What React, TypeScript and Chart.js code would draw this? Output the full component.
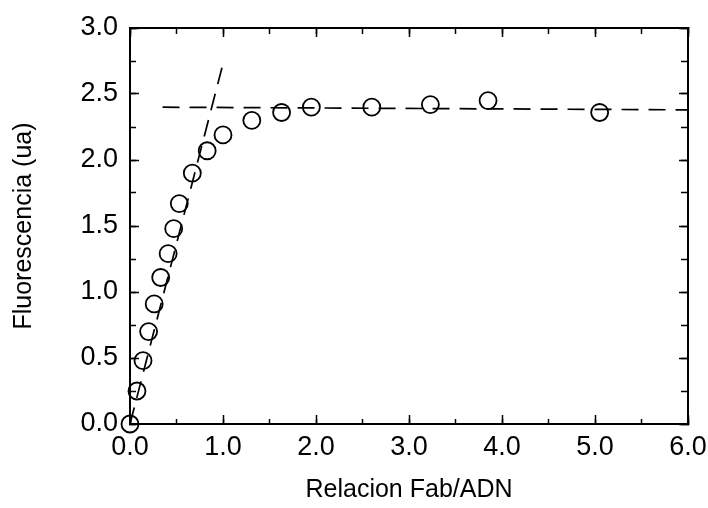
import React, { useEffect, useRef } from "react";
import { Chart, registerables } from "chart.js";

Chart.register(...registerables);

// Data
const ratioX: number[] = [0, 0.075, 0.14, 0.2, 0.26, 0.33, 0.41, 0.47, 0.53, 0.67, 0.83, 1.0, 1.31, 1.63, 1.95, 2.6, 3.23, 3.85, 5.05];
const fluorY: number[] = [0, 0.25, 0.48, 0.7, 0.91, 1.11, 1.29, 1.48, 1.67, 1.9, 2.07, 2.19, 2.3, 2.36, 2.4, 2.4, 2.42, 2.45, 2.36];

const steepLineX: number[] = [0, 1.0];
const steepLineY: number[] = [0, 2.73];
const plateauLineX: number[] = [0.35, 6.0];
const plateauLineY: number[] = [2.4, 2.38];

const xRange: number[] = [0, 6];
const yRange: number[] = [0, 3];
const xMajorStep = 1;
const xMinorStep = 0.5;
const yMajorStep = 0.5;
const yMinorStep = 0.25;

const xTitle = "Relacion Fab/ADN";
const yTitle = "Fluorescencia (ua)";

const FONT = "'Liberation Sans', Arial, Helvetica, sans-serif";

function toPoints(xs: number[], ys: number[]) {
  return xs.map((x, i) => ({ x, y: ys[i] }));
}

function makeAxis(opts: {
  position: string;
  isX: boolean;
  step: number;
  tickLen: number;
  labels: boolean;
  weight: number;
  size: number;
  title?: string;
}) {
  const [min, max] = opts.isX ? xRange : yRange;
  const axis: any = {
    type: "linear",
    position: opts.position,
    min,
    max,
    weight: opts.weight,
    grid: {
      drawOnChartArea: false,
      drawTicks: true,
      tickLength: -opts.tickLen,
      tickColor: "#000",
      tickWidth: 1.5,
    },
    border: { display: true, color: "#000", width: 2 },
    ticks: {
      stepSize: opts.step,
      autoSkip: false,
      maxRotation: 0,
      minRotation: 0,
      display: opts.labels,
      color: "#000",
      font: { family: FONT, size: 27 },
      padding: opts.isX ? 16 : 21,
      callback: (v: any) => Number(v).toFixed(1),
    },
    afterFit: (s: any) => {
      if (opts.isX) s.height = opts.size;
      else s.width = opts.size;
      s.paddingTop = 0;
      s.paddingBottom = 0;
      s.paddingLeft = 0;
      s.paddingRight = 0;
    },
  };
  if (opts.title) {
    axis.title = {
      display: true,
      text: opts.title,
      color: "#000",
      font: { family: FONT, size: 25 },
      padding: opts.isX ? { top: 0, bottom: 3 } : { top: 9, bottom: 0 },
    };
  }
  return axis;
}

export default function App() {
  const canvasRef = useRef<HTMLCanvasElement | null>(null);

  useEffect(() => {
    document.body.style.margin = "0";
    const ctx = canvasRef.current;
    if (!ctx) return;
    const dash = [17, 10];
    const chart = new Chart(ctx, {
      type: "scatter",
      data: {
        datasets: [
          {
            label: "datos",
            data: toPoints(ratioX, fluorY),
            showLine: false,
            clip: false,
            pointStyle: "circle",
            pointRadius: 8.5,
            pointBorderWidth: 1.8,
            borderColor: "#000",
            backgroundColor: "rgba(0,0,0,0)",
            xAxisID: "x",
            yAxisID: "y",
          },
          {
            label: "pendiente",
            data: toPoints(steepLineX, steepLineY),
            showLine: true,
            pointRadius: 0,
            borderColor: "#000",
            borderWidth: 1.7,
            borderDash: dash,
            xAxisID: "x",
            yAxisID: "y",
          },
          {
            label: "meseta",
            data: toPoints(plateauLineX, plateauLineY),
            showLine: true,
            pointRadius: 0,
            borderColor: "#000",
            borderWidth: 1.7,
            borderDash: dash,
            xAxisID: "x",
            yAxisID: "y",
          },
        ] as any,
      },
      options: {
        animation: false,
        responsive: false,
        maintainAspectRatio: false,
        layout: { padding: { top: 28, right: 20, left: 0, bottom: 0 } },
        plugins: {
          legend: { display: false },
          tooltip: { enabled: false },
        },
        scales: {
          xMinor: makeAxis({ position: "bottom", isX: true, step: xMinorStep, tickLen: 5, labels: false, weight: 0, size: 0 }),
          x: makeAxis({ position: "bottom", isX: true, step: xMajorStep, tickLen: 9, labels: true, weight: 1, size: 84, title: xTitle }),
          xTopMinor: makeAxis({ position: "top", isX: true, step: xMinorStep, tickLen: 6, labels: false, weight: 0, size: 0 }),
          xTop: makeAxis({ position: "top", isX: true, step: xMajorStep, tickLen: 9, labels: false, weight: 1, size: 0 }),
          yMinor: makeAxis({ position: "left", isX: false, step: yMinorStep, tickLen: 6, labels: false, weight: 0, size: 0 }),
          y: makeAxis({ position: "left", isX: false, step: yMajorStep, tickLen: 9, labels: true, weight: 1, size: 130, title: yTitle }),
          yRightMinor: makeAxis({ position: "right", isX: false, step: yMinorStep, tickLen: 7, labels: false, weight: 0, size: 0 }),
          yRight: makeAxis({ position: "right", isX: false, step: yMajorStep, tickLen: 9, labels: false, weight: 1, size: 0 }),
        } as any,
      },
    });
    return () => chart.destroy();
  }, []);

  return (
    <div style={{ position: "fixed", left: 0, top: 0, width: 708, height: 508, background: "#fff" }}>
      <canvas ref={canvasRef} width={708} height={508} style={{ width: 708, height: 508, display: "block" }} />
    </div>
  );
}
